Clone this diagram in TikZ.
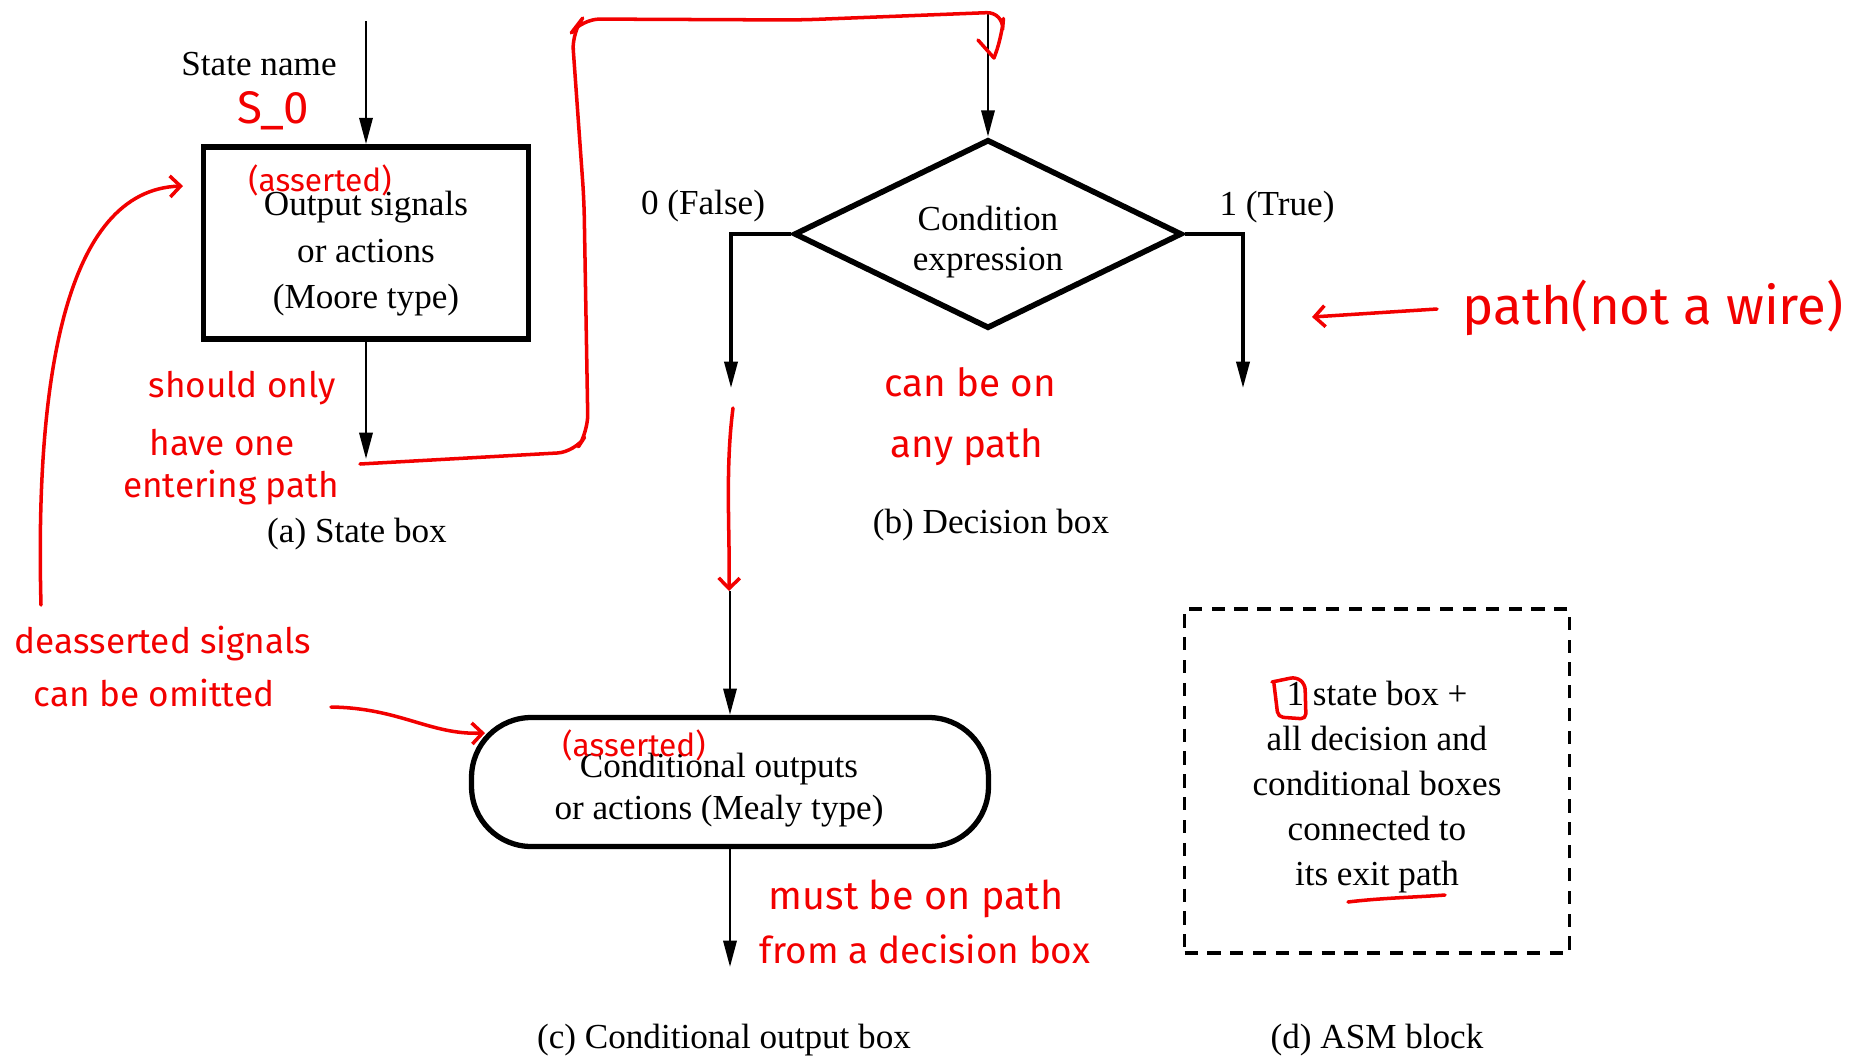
\documentclass[tikz,border=0pt]{standalone}
\usepackage{fontspec}
\setmainfont{Liberation Serif}
\newfontfamily\penfont{Fira Sans}
\usetikzlibrary{arrows.meta,shapes.geometric}
\definecolor{pen}{RGB}{242,0,0}
\begin{document}
\begin{tikzpicture}[x=0.02cm,y=-0.02cm,
  txt/.style={font=\fontsize{20}{#1}\selectfont, inner sep=0pt, align=center},
  txt/.default=26.5,
  statebox/.style={draw, line width=3.2pt, minimum width=6.5cm, minimum height=3.84cm},
  decbox/.style={diamond, draw, line width=3.2pt, line join=miter,
    minimum width=7.76cm, minimum height=3.78cm},
  condbox/.style={draw, line width=3pt, rounded corners=34pt,
    minimum width=10.34cm, minimum height=2.58cm},
  blockbox/.style={draw, line width=2pt, dash pattern=on 7.5pt off 5.5pt,
    minimum width=7.7cm, minimum height=6.88cm},
  arr/.style={line width=1.6pt, -{Triangle[length=15pt,width=7.5pt]}},
  redpen/.style={draw=pen, line width=2pt, line cap=round, line join=round},
  redarr/.style={redpen, -{Straight Barb[length=6pt,width=12pt,line width=2pt]}},
  hand/.style={text=pen, inner sep=0pt, font=\penfont\fontsize{#1}{#1}\selectfont},
  hand/.default=20
]
\useasboundingbox (0,0) rectangle (1854,1059);

% ---------- (a) state box ----------
\node[statebox] (sb) at (366,243) {};
\node[txt] (sbtxt) at (366,254) {Output signals\\or actions\\(Moore type)};
\coordinate (sbin) at (366,21);
\coordinate (sbout) at (366,459);
\draw[arr] (sbin) -- (sb.north);
\draw[arr] (sb.south) -- (sbout);
\node[txt] (sname) at (259,64) {State name};
\node[txt] (capa) at (357,534) {(a) State box};

% ---------- (b) decision box ----------
\node[decbox] (dec) at (988,234) {};
\node[txt=22.7] (dectxt) at (988,242) {Condition\\expression};
\coordinate (decin) at (988,14);
\coordinate (fend) at (731,388);
\coordinate (tend) at (1243,388);
\draw[arr] (decin) -- (dec.north);
\draw[arr, line width=1.8pt] (dec.west) -| (fend);
\draw[arr, line width=1.8pt] (dec.east) -| (tend);
\node[txt] (lfalse) at (703,206) {0 (False)};
\node[txt] (ltrue) at (1277,207) {1 (True)};
\node[txt] (capb) at (991,525) {(b) Decision box};

% ---------- (c) conditional output box ----------
\node[condbox] (cond) at (730,782) {};
\node[txt=24] (condtxt) at (719,790) {Conditional outputs\\or actions (Mealy type)};
\coordinate (condin) at (730,591);
\coordinate (condout) at (730,967);
\draw[arr] (condin) -- (cond.north);
\draw[arr] (cond.south) -- (condout);
\node[txt] (capc) at (724,1040) {(c) Conditional output box};

% ---------- (d) ASM block ----------
\node[blockbox] (blk) at (1377,781) {};
\node[txt=25.5] (blktxt) at (1377,787)
  {1 state box +\\all decision and\\conditional boxes\\connected to\\its exit path};
\node[txt] (capd) at (1377,1040) {(d) ASM block};

% ---------- handwritten notes ----------
\node[hand=26] (sname0) at (273,111) {S\_0};
\node[hand=18] (asrt1) at (320,180) {(asserted)};
\node[hand=18] (asrt2) at (634,745) {(asserted)};
\node[hand] (n1a) at (242,388) {should only};
\node[hand] (n1b) at (222,443) {have one};
\node[hand] (n1c) at (231,488) {entering path};
\node[hand=22] (n2a) at (970,382) {can be on};
\node[hand=22] (n2b) at (967,447) {any path};
\node[hand=30] (n3) at (1653,308) {path(not a wire)};
\node[hand] (n4a) at (163,644) {deasserted signals};
\node[hand] (n4b) at (154,693) {can be omitted};
\node[hand=22.5] (n5a) at (916,899) {must be on path};
\node[hand=21] (n5b) at (925,949) {from a decision box};

% the single entering path: from the state box exit round to the decision box
\coordinate (rstart) at (360,464);
\coordinate (rend) at (994,58);
\draw[redpen, rounded corners=10pt] (rstart) -- (575,452) -- (588,432) -- (584,200)
  -- (572,32) -- (582,19) -- (800,20) -- (1004,12) -- (1002,36) -- (rend);
\draw[redpen] (rend) -- (978,40);

% pointers
\coordinate (p1) at (41,605);
\coordinate (p1t) at (183,186);
\draw[redarr] (p1) .. controls (35,380) and (65,190) .. (p1t);
\coordinate (p2) at (331,707);
\coordinate (p2t) at (485,733);
\draw[redarr] (p2) .. controls (400,708) and (430,735) .. (p2t);
\coordinate (p3) at (733,408);
\coordinate (p3t) at (729,591);
\draw[redarr] (p3) .. controls (725,470) and (730,530) .. (p3t);
\coordinate (p4) at (1437,309);
\coordinate (p4t) at (1312,317);
\draw[redarr] (p4) -- (p4t);

% marks inside the ASM block
\draw[redpen, rounded corners=3pt] (1272,682) -- (1296,677) -- (1305,684) -- (1306,719)
  -- (1278,717) -- (1274,684);
\draw[redpen] (1348,902) .. controls (1380,898) and (1420,897) .. (1445,895);
\end{tikzpicture}
\end{document}
